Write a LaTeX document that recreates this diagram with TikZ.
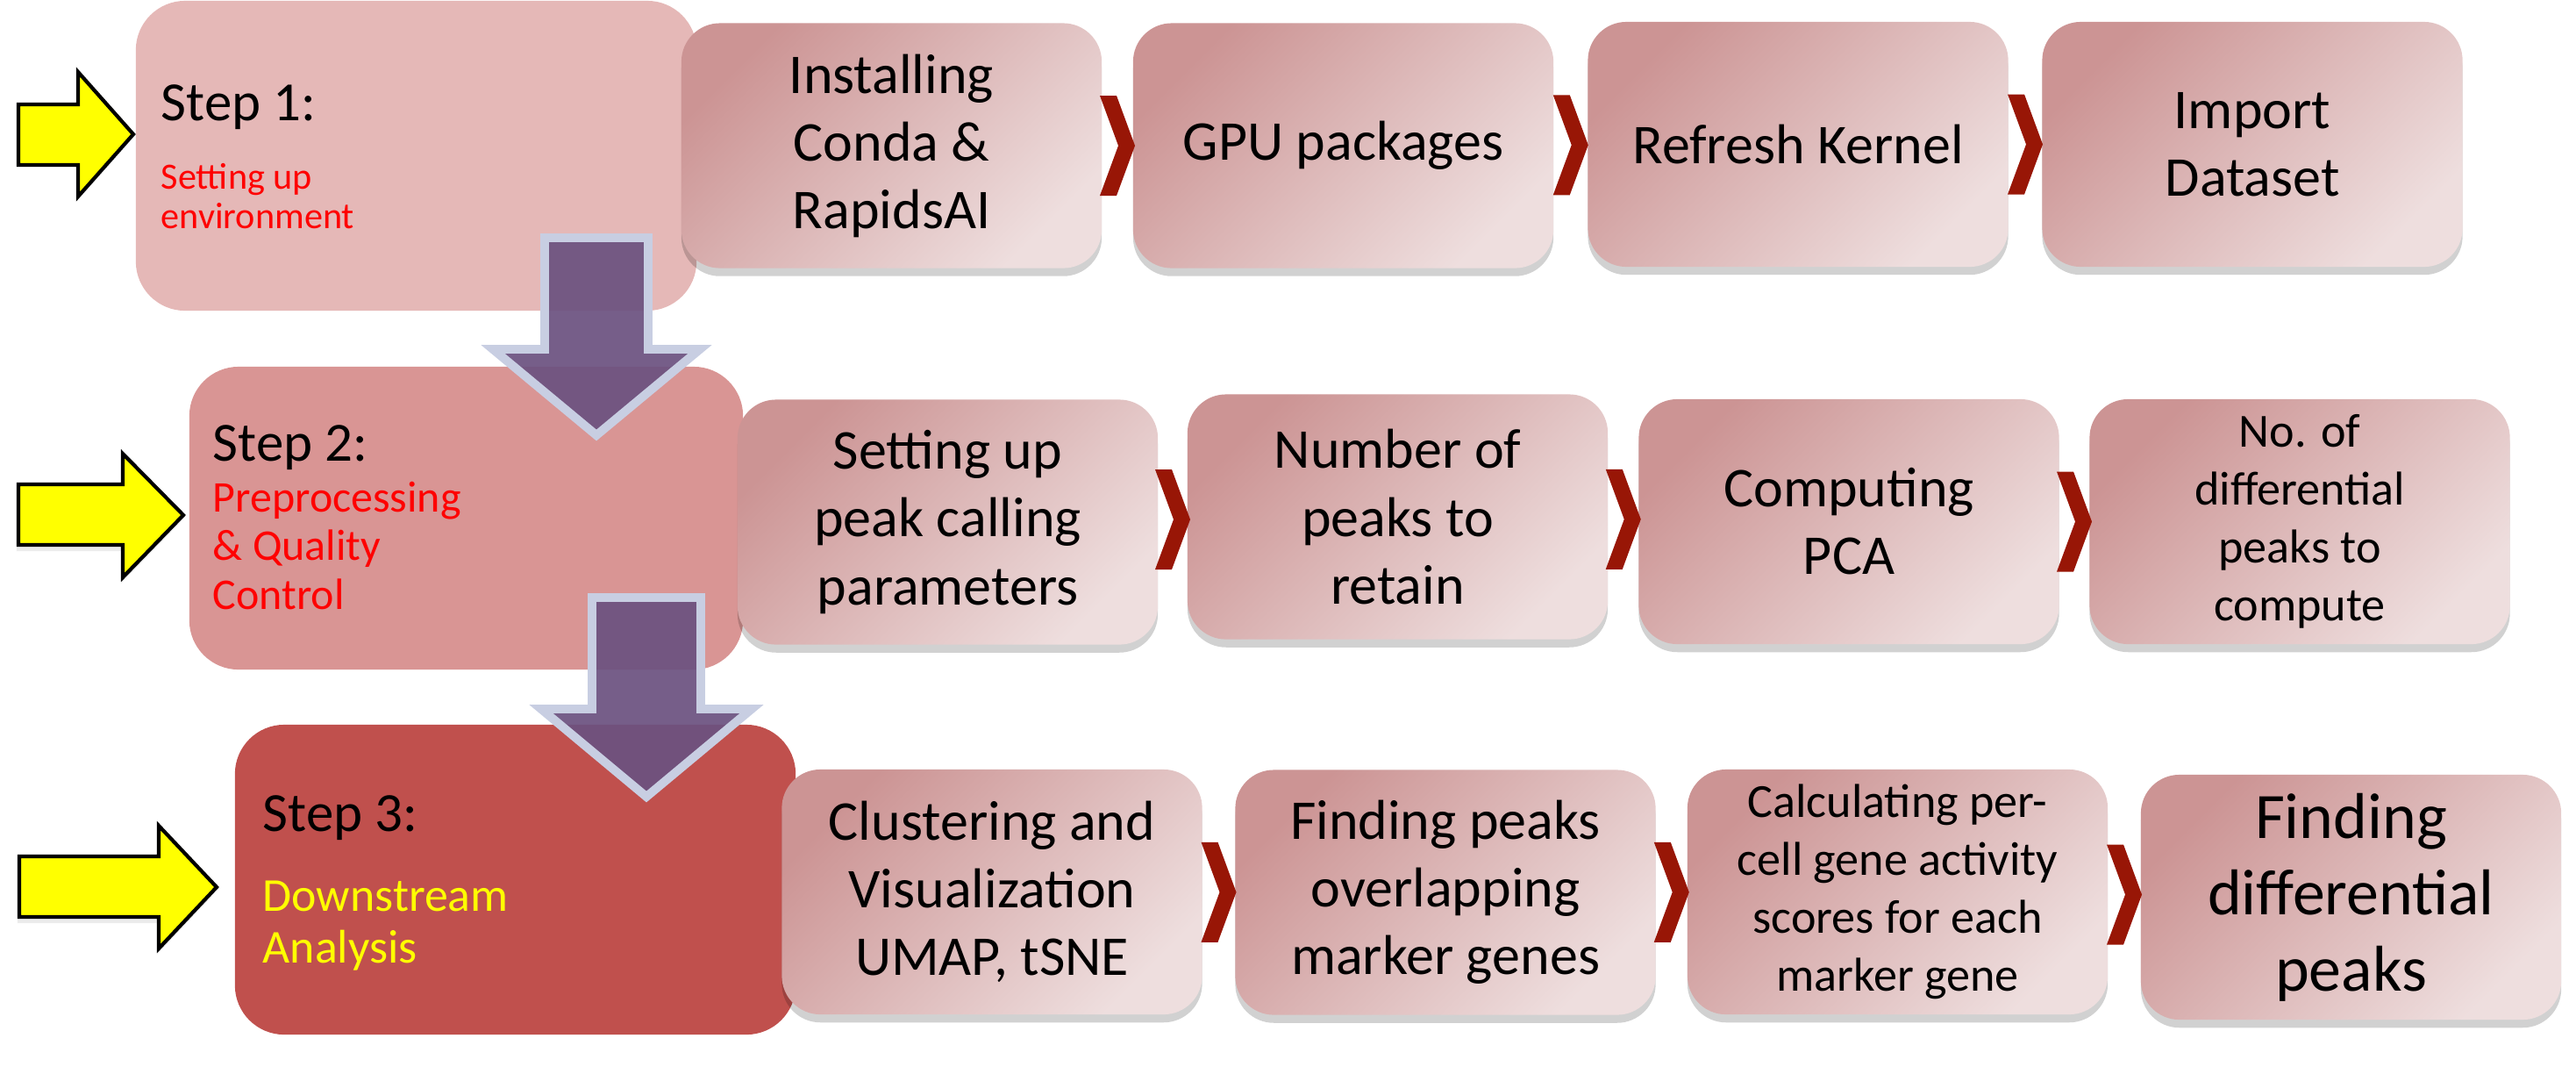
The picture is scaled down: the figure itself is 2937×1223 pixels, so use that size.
\documentclass[tikz,border=0pt]{standalone}
\usepackage{fontspec}
\setmainfont{Carlito}
\usetikzlibrary{shadows,calc}
\definecolor{sone}{RGB}{229,184,183}
\definecolor{stwo}{RGB}{217,149,148}
\definecolor{sthree}{RGB}{192,80,77}
\definecolor{pdark}{RGB}{204,148,148}
\definecolor{plight}{RGB}{238,222,222}
\definecolor{chevred}{RGB}{152,22,6}
\definecolor{purp}{RGB}{108,82,128}
\definecolor{purpedge}{RGB}{200,206,226}
\definecolor{yel}{RGB}{255,255,0}
\newcommand\ptxtbig{\fontsize{18.2pt}{21.9pt}\selectfont}
\newcommand\ptxtsmall{\fontsize{15.4pt}{18.8pt}\selectfont}
\newcommand\ptxthuge{\fontsize{21pt}{24.8pt}\selectfont}
\newcommand\steptitlefont{\fontsize{17.9pt}{21pt}\selectfont}
\newcommand\subonefont{\fontsize{12pt}{12.8pt}\selectfont}
\newcommand\subtwofont{\fontsize{14.2pt}{15.8pt}\selectfont}
\newcommand\subthreefont{\fontsize{15.3pt}{16.8pt}\selectfont}
\newcommand\chevbetween[2]{\fill[chevred, shift={($(#1.east)!0.5!(#2.west)$)}] (-20,-57) -- (-1,-57) -- (20,0) -- (-1,57) -- (-20,57) -- (1,0) -- cycle;}
\begin{document}
\begin{tikzpicture}[x=0.01cm,y=-0.01cm,
  stepbox/.style={rounded corners=16pt, inner sep=0pt},
  pbox/.style={rounded corners=12.5pt, top color=pdark, bottom color=plight, shading angle=45,
    minimum width=4.79cm, minimum height=2.79cm, align=center, inner sep=0pt, font=\ptxtbig,
    drop shadow={shadow xshift=0pt, shadow yshift=-2.6pt, opacity=0.18, fill=black}},
  downarrow/.style={fill=purp, fill opacity=0.93, draw=purpedge, line width=2.8pt, line join=miter},
  yarrow/.style={fill=yel, draw=black, line width=1.2pt, line join=miter},
  yshadow/.style={drop shadow={shadow xshift=-0.6pt, shadow yshift=-2pt, opacity=0.15}},
  steplabel/.style={anchor=base west, inner sep=0pt}]
\useasboundingbox (0,0) rectangle (2937,1223);
% step boxes
\node[stepbox, fill=sone, minimum width=6.39cm, minimum height=3.53cm] (s1) at (474.5,177.5) {};
\node[stepbox, fill=stwo, minimum width=6.31cm, minimum height=3.45cm] (s2) at (531.5,590.5) {};
\node[stepbox, fill=sthree, minimum width=6.39cm, minimum height=3.53cm] (s3) at (587.5,1002.5) {};
% process boxes row 1
\node[pbox] (a) at (1016.5,166) {Installing\\Conda \&\\RapidsAI};
\node[pbox] (b) at (1531.5,166) {GPU packages};
\node[pbox] (c) at (2050,164.5) {Refresh Kernel};
\node[pbox] (d) at (2568,164.5) {Import\\Dataset};
% row 2
\node[pbox] (e) at (1080.5,595) {Setting up\\peak calling\\parameters};
\node[pbox] (f) at (1593.5,589) {Number of\\peaks to\\retain};
\node[pbox] (g) at (2108,594.5) {Computing\\PCA};
\node[pbox, font=\ptxtsmall] (h) at (2622,594.5) {No. of\\differential\\peaks to\\compute};
% row 3
\node[pbox] (i) at (1131,1016.5) {Clustering and\\Visualization\\UMAP, tSNE};
\node[pbox] (j) at (1648,1017) {Finding peaks\\overlapping\\marker genes};
\node[pbox, font=\ptxtsmall] (k) at (2163.5,1016.5) {Calculating per-\\cell gene activity\\scores for each\\marker gene};
\node[pbox, font=\ptxthuge] (l) at (2680.5,1022.5) {Finding\\differential\\peaks};
% chevrons
\chevbetween{a}{b}
\chevbetween{b}{c}
\chevbetween{c}{d}
\chevbetween{e}{f}
\chevbetween{f}{g}
\chevbetween{g}{h}
\chevbetween{i}{j}
\chevbetween{j}{k}
\chevbetween{k}{l}
% purple down arrows
\draw[downarrow] (621,271) -- (739,271) -- (739,398) -- (798,398) -- (680,496) -- (562,398) -- (621,398) -- cycle;
\draw[downarrow] (675,681) -- (799,681) -- (799,808) -- (857,808) -- (737,908) -- (617,808) -- (675,808) -- cycle;
% yellow arrows
\draw[yarrow] (21,119) -- (89,119) -- (89,82) -- (152,153) -- (89,224) -- (89,188) -- (21,188) -- cycle;
\draw[yarrow, yshadow] (21,552) -- (140,552) -- (140,517) -- (209,587) -- (140,658) -- (140,621) -- (21,621) -- cycle;
\draw[yarrow, yshadow] (22,976) -- (181,976) -- (181,941) -- (247,1011) -- (181,1081) -- (181,1045) -- (22,1045) -- cycle;
% step texts
\node[steplabel, font=\steptitlefont] (t1) at (183,137) {Step 1:};
\node[steplabel, font=\subonefont, text=red] (t1s) at (183,215) {\parbox[t]{5cm}{\raggedright Setting up\\environment}};
\node[steplabel, font=\steptitlefont] (t2) at (242,525) {Step 2:};
\node[steplabel, font=\subtwofont, text=red] (t2s) at (242,583) {\parbox[t]{5cm}{\raggedright Preprocessing\\\& Quality\\Control}};
\node[steplabel, font=\steptitlefont] (t3) at (299,947) {Step 3:};
\node[steplabel, font=\subthreefont, text=yel] (t3s) at (299,1038) {\parbox[t]{5cm}{\raggedright Downstream\\Analysis}};
\end{tikzpicture}
\end{document}
